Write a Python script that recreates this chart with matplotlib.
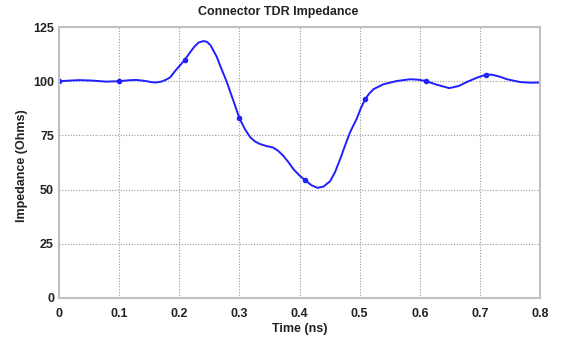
import matplotlib
matplotlib.use("Agg")
import matplotlib.pyplot as plt

# Curve samples (time in ns, impedance in Ohms)
time_ns = [0.000, 0.020, 0.033, 0.055, 0.078, 0.100, 0.115, 0.128, 0.144, 0.155,
           0.161, 0.170, 0.1775, 0.185, 0.194, 0.202, 0.2096, 0.218, 0.225, 0.232,
           0.240, 0.246, 0.252, 0.2623, 0.270, 0.279, 0.290, 0.300, 0.309, 0.3178,
           0.326, 0.3344, 0.345, 0.356, 0.364, 0.373, 0.382, 0.390, 0.400, 0.409,
           0.420, 0.430, 0.440, 0.451, 0.459, 0.4675, 0.476, 0.484, 0.495, 0.502,
           0.509, 0.516, 0.523, 0.5396, 0.562, 0.584, 0.597, 0.610, 0.628, 0.649,
           0.665, 0.678, 0.695, 0.710, 0.720, 0.733, 0.745, 0.767, 0.785, 0.800]
impedance = [100.0, 100.3, 100.5, 100.3, 99.8, 100.0, 100.4, 100.6, 100.1, 99.5,
             99.4, 99.8, 100.6, 101.8, 105.0, 107.5, 110.0, 113.3, 115.9, 117.8,
             118.5, 118.2, 116.6, 111.3, 105.8, 99.7, 91.0, 83.0, 78.0, 74.2,
             72.2, 71.0, 70.1, 69.4, 68.0, 65.6, 62.5, 59.4, 56.5, 54.4,
             52.0, 50.8, 51.4, 53.9, 58.0, 64.0, 70.5, 76.4, 82.6, 87.5,
             91.6, 94.3, 96.3, 98.6, 100.1, 100.9, 100.7, 100.1, 98.4, 96.8,
             97.8, 99.6, 101.6, 103.0, 103.0, 102.1, 100.9, 99.6, 99.3, 99.4]

# Sample markers on the curve
marker_t = [0.0, 0.1, 0.2096, 0.300, 0.409, 0.509, 0.610, 0.710]
marker_z = [100.0, 100.0, 110.0, 83.0, 54.4, 91.6, 100.1, 103.0]

x_ticks = [0, 0.1, 0.2, 0.3, 0.4, 0.5, 0.6, 0.7, 0.8]
x_tick_labels = ["0", "0.1", "0.2", "0.3", "0.4", "0.5", "0.6", "0.7", "0.8"]
y_ticks = [0, 25, 50, 75, 100, 125]
y_tick_labels = ["0", "25", "50", "75", "100", "125"]

plt.rcParams['font.family'] = ['Liberation Sans', 'DejaVu Sans']
plt.rcParams['font.weight'] = 'bold'

W, H = 562, 339
fig = plt.figure(figsize=(W / 100, H / 100), dpi=100)
ax = fig.add_axes([59 / W, (H - 298) / H, 481 / W, 271 / H])

ax.plot(time_ns, impedance, color='#1f1fff', linewidth=1.4,
        solid_joinstyle='round', solid_capstyle='round')
ax.plot(marker_t, marker_z, linestyle='none', marker='o', markersize=3.0,
        color='#1f1fff')

ax.set_xlim(0, 0.8)
ax.set_ylim(0, 125)
ax.set_xticks(x_ticks)
ax.set_xticklabels(x_tick_labels)
ax.set_yticks(y_ticks)
ax.set_yticklabels(y_tick_labels)
ax.tick_params(axis='both', length=0, labelsize=9, colors='#222222')
ax.tick_params(axis='x', pad=7)
ax.tick_params(axis='y', pad=3.6)
for lab in ax.get_xticklabels() + ax.get_yticklabels():
    lab.set_fontweight('bold')

ax.grid(True, color='#9a9a9a', linestyle=(0, (1, 1.5)), linewidth=0.8)
ax.set_axisbelow(True)
for s in ax.spines.values():
    s.set_color('#c0c0c0')
    s.set_linewidth(1.5)

ax.set_xlabel("Time (ns)", fontsize=9, fontweight='bold', color='#222222')
ax.xaxis.set_label_coords(0.5, -0.092)
ax.set_ylabel("Impedance (Ohms)", fontsize=9, fontweight='bold', color='#222222')
ax.yaxis.set_label_coords(-0.064, 0.49)

fig.text(278.5 / W, 1 - 12.5 / H, "Connector TDR Impedance", ha='center', va='center',
         fontsize=9, fontweight='bold', color='#222222')

fig.savefig("out.png", dpi=100, facecolor='white')
